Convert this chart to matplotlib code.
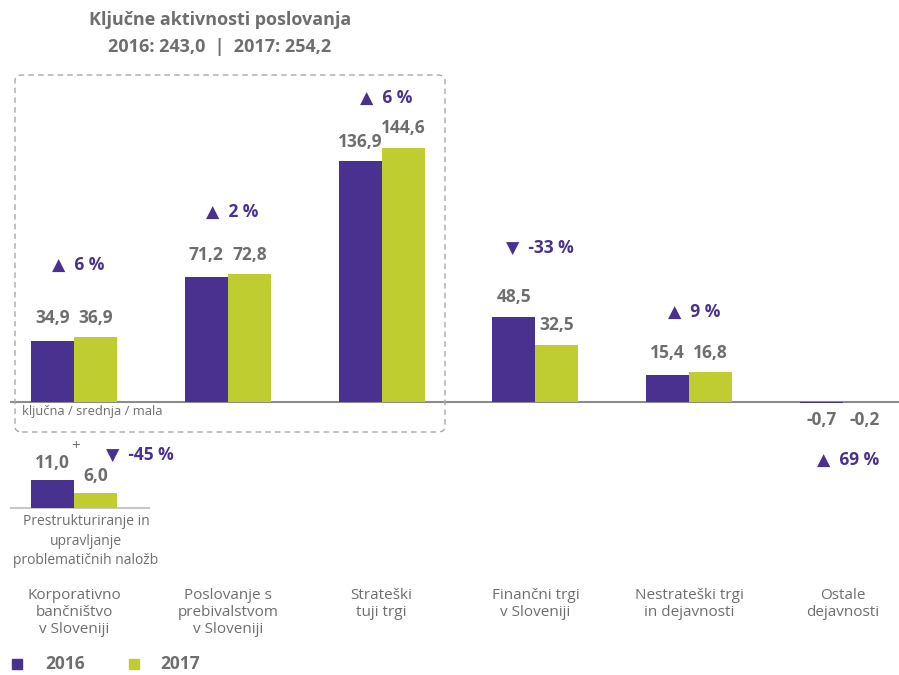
import matplotlib
matplotlib.use("Agg")
import matplotlib.pyplot as plt
import numpy as np
from matplotlib.patches import FancyBboxPatch, Rectangle

# ---------------- data ----------------
categories = ["Korporativno\nbančništvo\nv Sloveniji",
              "Poslovanje s\nprebivalstvom\nv Sloveniji",
              "Strateški\ntuji trgi",
              "Finančni trgi\nv Sloveniji",
              "Nestrateški trgi\nin dejavnosti",
              "Ostale\ndejavnosti"]
values_2016 = [34.9, 71.2, 136.9, 48.5, 15.4, -0.7]
values_2017 = [36.9, 72.8, 144.6, 32.5, 16.8, -0.2]
pct_labels = ["▲  6 %", "▲  2 %", "▲  6 %", "▼  -33 %", "▲  9 %", "▲  69 %"]

sub_category = "Prestrukturiranje in\nupravljanje\nproblematičnih naložb"
sub_2016 = [11.0]
sub_2017 = [6.0]
sub_pct = "▼  -45 %"

title_lines = ["Ključne aktivnosti poslovanja", "2016: 243,0  |  2017: 254,2"]
legend_labels = ["2016", "2017"]
box_label = "ključna / srednja / mala"

# ---------------- layout / style ----------------
pct_label_y = [78, 108, 173, 87.6, 51, -33]   # data units, text placement
C16 = "#48318f"
C17 = "#bfcd31"
GREY = "#6e6e6e"
PURP = "#4a3190"
FONT = ["Open Sans", "DejaVu Sans"]
plt.rcParams["font.family"] = FONT

W, H = 899, 675
fig = plt.figure(figsize=(W / 100, H / 100), dpi=100)


def rect(x0, y0, x1, y1):
    return [x0 / W, 1 - y1 / H, (x1 - x0) / W, (y1 - y0) / H]


def fmt(v):
    return f"{v:.1f}".replace(".", ",")


# main axes
ax = fig.add_axes(rect(10, 80, 899, 425))
ax.set_xlim(-0.416, 5.364)
ax.set_ylim(-(425 - 402) / 1.757, (402 - 80) / 1.757)
ax.axis("off")
x = np.arange(len(categories))
bw = 0.28
ax.axhline(0, color="#8c8c8c", lw=1.5, zorder=1)
ax.bar(x - bw / 2, values_2016, bw, color=C16, zorder=2)
ax.bar(x + bw / 2, values_2017, bw, color=C17, zorder=2)

for i in range(len(categories)):
    a, b = values_2016[i], values_2017[i]
    if a >= 0:
        if abs(a - b) < 5:
            ya = yb = max(a, b)
        else:
            ya, yb = a, b
        for xv, yv, v in ((x[i] - bw / 2, ya, a), (x[i] + bw / 2, yb, b)):
            ax.annotate(fmt(v), (xv, yv), xytext=(0, 14), textcoords="offset points",
                        ha="center", va="center", fontsize=12.5, fontweight="bold",
                        color=GREY)
    else:
        for xv, v in ((x[i] - bw / 2, a), (x[i] + bw / 2, b)):
            ax.annotate(fmt(v), (xv, 0), xytext=(0, -13), textcoords="offset points",
                        ha="center", va="center", fontsize=12.5, fontweight="bold",
                        color=GREY)
    ax.text(x[i] + 0.03, pct_label_y[i], pct_labels[i], ha="center", va="center",
            fontsize=12.5, fontweight="bold", color=PURP)

# category labels
for i, c in enumerate(categories):
    fig.text((10 + (x[i] + 0.416) * 153.8) / W, 1 - 588 / H, c, ha="center", va="top",
             fontsize=11, color=GREY, linespacing=1.17)

# sub axes
sx = fig.add_axes(rect(10, 440, 150, 512))
sx.set_xlim(-0.416, -0.416 + 140 / 153.8)
sx.set_ylim(-(512 - 508) / 2.55, (508 - 440) / 2.55)
sx.axis("off")
sx.axhline(0, color="#c8c8c8", lw=1.5, zorder=1)
sx.bar([-bw / 2], sub_2016, bw, color=C16, zorder=2)
sx.bar([bw / 2], sub_2017, bw, color=C17, zorder=2)
for xv, v in ((-bw / 2, sub_2016[0]), (bw / 2, sub_2017[0])):
    sx.annotate(fmt(v), (xv, v), xytext=(0, 12), textcoords="offset points",
                ha="center", va="center", fontsize=12.5, fontweight="bold", color=GREY)
fig.text(76 / W, 1 - 447 / H, "+", ha="center", va="center", fontsize=11, color=GREY)
fig.text(140 / W, 1 - 455 / H, sub_pct, ha="center", va="center", fontsize=12.5,
         fontweight="bold", color=PURP)
fig.text(86 / W, 1 - 514 / H, sub_category, ha="center", va="top", fontsize=10,
         color=GREY, linespacing=1.42)

# dashed box
box = FancyBboxPatch((15 / W, 1 - 432 / H), (445 - 15) / W, (432 - 75) / H,
                     boxstyle="round,pad=0,rounding_size=0.008", transform=fig.transFigure,
                     fill=False, edgecolor="#a8a8a8", lw=1, linestyle=(0, (4, 3)))
fig.add_artist(box)
fig.text(22 / W, 1 - 412 / H, box_label, ha="left", va="center", fontsize=9.3, color=GREY)

# title
fig.text(220 / W, 1 - 20 / H, title_lines[0], ha="center", va="center", fontsize=13,
         fontweight="bold", color=GREY)
fig.text(220 / W, 1 - 47 / H, title_lines[1], ha="center", va="center", fontsize=13,
         fontweight="bold", color=GREY)

# legend
for (sx0, tx0), col, lab in (((12, 45), C16, legend_labels[0]),
                            ((129, 160), C17, legend_labels[1])):
    fig.add_artist(Rectangle((sx0 / W, 1 - 669 / H), 10 / W, 10 / H,
                             transform=fig.transFigure, color=col))
    fig.text(tx0 / W, 1 - 664 / H, lab, ha="left", va="center", fontsize=12.5,
             fontweight="bold", color=GREY)

fig.savefig("out.png", dpi=100)
